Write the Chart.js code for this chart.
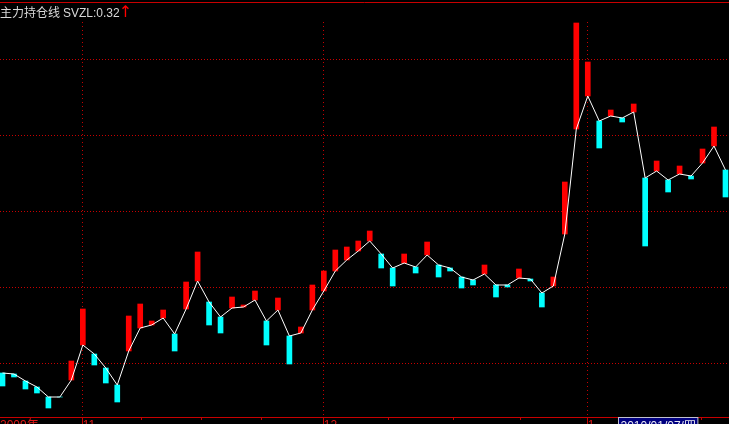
<!DOCTYPE html>
<html><head><meta charset="utf-8">
<script src="https://cdn.jsdelivr.net/npm/chart.js@4/dist/chart.umd.min.js"></script>
<style>html,body{margin:0;padding:0;background:#000;overflow:hidden}#wrap{position:relative;width:729px;height:424px}</style>
</head><body><div id="wrap"><canvas id="c"></canvas></div>
<script>
// ---- data ----
const indicatorName = '主力持仓线';
const seriesName = 'SVZL';
const yearLabel = '2009年';
const dates = [
 '2009-10-22','2009-10-23','2009-10-26','2009-10-27','2009-10-28','2009-10-29','2009-10-30',
 '2009-11-02','2009-11-03','2009-11-04','2009-11-05','2009-11-06','2009-11-09','2009-11-10','2009-11-11','2009-11-12','2009-11-13',
 '2009-11-16','2009-11-17','2009-11-18','2009-11-19','2009-11-20','2009-11-23','2009-11-24','2009-11-25','2009-11-26','2009-11-27','2009-11-30',
 '2009-12-01','2009-12-02','2009-12-03','2009-12-04','2009-12-07','2009-12-08','2009-12-09','2009-12-10','2009-12-11',
 '2009-12-14','2009-12-15','2009-12-16','2009-12-17','2009-12-18','2009-12-21','2009-12-22','2009-12-23','2009-12-24','2009-12-25',
 '2009-12-28','2009-12-29','2009-12-30','2009-12-31',
 '2010-01-04','2010-01-05','2010-01-06','2010-01-07','2010-01-08','2010-01-11','2010-01-12','2010-01-13','2010-01-14','2010-01-15',
 '2010-01-18','2010-01-19','2010-01-20'
];
// line value (SVZL) per day
const svzl = [
 0.117,0.116,0.109,0.103,0.093,0.093,0.110,
 0.145,0.136,0.122,0.105,0.139,0.162,0.165,0.172,0.156,0.181,0.209,0.188,0.173,0.182,0.183,0.190,0.169,0.180,0.154,0.157,0.180,
 0.199,0.219,0.230,0.239,0.249,0.236,0.222,0.227,0.223,0.235,0.225,0.222,0.213,0.210,0.216,0.205,0.205,0.212,0.211,0.197,0.204,0.256,0.361,
 0.394,0.369,0.374,0.372,0.378,0.312,0.319,0.310,0.316,0.314,0.327,0.344,0.320
];
// other end of each day's bar (above line = red, below line = cyan)
const barEnd = [
 0.104,0.113,0.101,0.097,0.082,0.093,0.129,
 0.181,0.125,0.107,0.088,0.174,0.186,0.169,0.180,0.139,0.208,0.238,0.165,0.157,0.193,0.185,0.199,0.145,0.192,0.126,0.163,0.205,
 0.219,0.240,0.243,0.249,0.259,0.222,0.204,0.236,0.217,0.248,0.213,0.219,0.202,0.205,0.225,0.193,0.203,0.221,0.209,0.183,0.213,0.308,0.467,
 0.428,0.342,0.380,0.368,0.386,0.244,0.329,0.298,0.324,0.311,0.341,0.363,0.293
];
const cursorDate = '2010-01-07';
const weekdayNames = ['日','一','二','三','四','五','六'];
const gridLevels = [0.127, 0.203, 0.279, 0.355, 0.431];
const minorTicks = [12.07, 17.38, 22.6, 33.6, 39.3, 45.1, 60.95];
const xMin = -0.2178, xMax = 63.306;
const yMin = 0.073, yMax = 0.468;

// ---- styles ----
const RED = '#ff0000', CYAN = '#00ffff', GRID = '#c80000', AXIS = '#c80000', LABEL = '#e01818';

const monthStarts = [];
dates.forEach((d, i) => { if (i > 0 && d.slice(5, 7) !== dates[i - 1].slice(5, 7)) monthStarts.push(i); });
const tickLabelMap = new Map();
tickLabelMap.set(xMin, yearLabel);
monthStarts.forEach(i => tickLabelMap.set(i, String(+dates[i].slice(5, 7))));
const allTicks = [xMin, ...monthStarts, ...minorTicks].sort((a, b) => a - b);

const barData = svzl.map((v, i) => ({x: i, y: [v, barEnd[i]]}));
const lineData = svzl.map((v, i) => ({x: i, y: v}));

const headerPlugin = {
  id: 'header',
  afterDraw(chart) {
    const {ctx, chartArea} = chart;
    ctx.save();
    ctx.strokeStyle = AXIS; ctx.lineWidth = 1;
    ctx.beginPath(); ctx.moveTo(chartArea.left, 2.5); ctx.lineTo(chartArea.right, 2.5); ctx.stroke();
    ctx.textBaseline = 'alphabetic'; ctx.textAlign = 'left';
    ctx.fillStyle = '#d8d8d8';
    ctx.font = "12px 'Noto Sans CJK SC'";
    ctx.fillText(indicatorName, 0, 17);
    ctx.font = "12px 'Liberation Sans'";
    const valTxt = seriesName + ':' + svzl[svzl.length - 1].toFixed(2);
    ctx.fillText(valTxt, 63, 17);
    const w = ctx.measureText(valTxt).width;
    ctx.fillStyle = RED;
    ctx.font = "16px 'DejaVu Sans'";
    ctx.fillText('↑', 63 + w - 1, 17);
    // cursor date box
    const ci = dates.indexOf(cursorDate);
    const d = new Date(cursorDate + 'T00:00:00');
    const txt = cursorDate.replace(/-/g, '/') + '/' + weekdayNames[d.getDay()];
    const xs = chart.scales.x;
    const left = Math.round(xs.getPixelForValue(ci)) - 4 + 0.5;
    ctx.font = "12px 'Liberation Sans', 'Noto Sans CJK SC'";
    const tw = ctx.measureText(txt).width;
    const top = chartArea.bottom + 0.5;
    ctx.fillStyle = '#000080';
    ctx.fillRect(left, top, tw + 4, 14);
    ctx.strokeStyle = '#c0c0d0';
    ctx.strokeRect(left, top, tw + 4, 14);
    ctx.fillStyle = '#e8e8f0';
    ctx.fillText(txt, left + 2, top + 12);
    ctx.restore();
  }
};

new Chart(document.getElementById('c'), {
  type: 'bar',
  data: {
    datasets: [
      {type: 'line', data: lineData, borderColor: '#ffffff', borderWidth: 1, pointRadius: 0, tension: 0, fill: false, order: 0, xAxisID: 'x', yAxisID: 'y'},
      {type: 'bar', data: barData, order: 1, xAxisID: 'x', yAxisID: 'y', barThickness: 5, borderWidth: 0, grouped: false,
       backgroundColor: c => { const r = c.raw; return r && r.y[1] > r.y[0] ? RED : CYAN; }}
    ]
  },
  options: {
    responsive: true, maintainAspectRatio: false, animation: false, events: [],
    layout: {padding: {top: 22, left: 0, right: 0, bottom: 0}},
    plugins: {legend: {display: false}, tooltip: {enabled: false}, title: {display: false}},
    scales: {
      x: {
        type: 'linear', axis: 'x', position: 'bottom', min: xMin, max: xMax, weight: 1, offset: false,
        afterBuildTicks: s => { s.ticks = allTicks.map(v => ({value: v})); },
        afterFit: s => { s.height = 7; },
        grid: {offset: false, drawOnChartArea: false, drawTicks: true, tickLength: 3, color: 'rgba(0,0,0,0)',
               tickColor: c => (c.tick && c.tick.value === xMin) ? 'rgba(0,0,0,0)' : AXIS},
        border: {display: true, color: AXIS, width: 1},
        ticks: {autoSkip: false, maxRotation: 0, minRotation: 0, align: 'start', padding: -2, color: LABEL,
                font: {size: 12, family: "'Liberation Sans', 'Noto Sans CJK SC'"},
                callback: v => tickLabelMap.has(v) ? tickLabelMap.get(v) : ''}
      },
      xg: {
        type: 'linear', axis: 'x', position: 'bottom', min: xMin, max: xMax, weight: 0, offset: false,
        afterBuildTicks: s => { s.ticks = monthStarts.map(v => ({value: v})); },
        afterFit: s => { s.height = 0; },
        ticks: {display: false},
        grid: {offset: false, color: GRID, drawOnChartArea: true, drawTicks: true, tickLength: 8, tickColor: AXIS, lineWidth: 1},
        border: {display: false, dash: [1, 3]}
      },
      y: {
        type: 'linear', position: 'left', min: yMin, max: yMax,
        afterBuildTicks: s => { s.ticks = gridLevels.map(v => ({value: v})); },
        afterFit: s => { s.width = 0; },
        ticks: {display: false},
        grid: {color: GRID, drawTicks: false, lineWidth: 1},
        border: {display: false, dash: [1, 2]}
      }
    }
  },
  plugins: [headerPlugin]
});
</script>
</body></html>
